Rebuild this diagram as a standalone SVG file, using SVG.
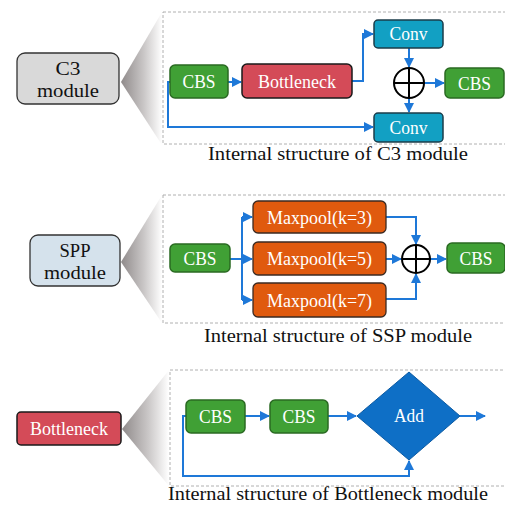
<svg xmlns="http://www.w3.org/2000/svg" width="505" height="506" viewBox="0 0 505 506">
<defs>
<linearGradient id="wedge" x1="0" y1="0" x2="1" y2="0">
<stop offset="0" stop-color="#8f8a8a"/>
<stop offset="0.55" stop-color="#c9c6c6"/>
<stop offset="1" stop-color="#ffffff"/>
</linearGradient>
<marker id="arr" viewBox="0 0 10 10" refX="9" refY="5" markerWidth="5" markerHeight="5" orient="auto" markerUnits="strokeWidth">
<path d="M0,0 L10,5 L0,10 z" fill="#1e78d8"/>
</marker>
<style>
.dash{fill:none;stroke:#b0b0b0;stroke-width:1;stroke-dasharray:3,2}
.cbs{fill:#40a035;stroke:#2a6a22;stroke-width:1.5}
.red{fill:#d44b58;stroke:#1a1a1a;stroke-width:1.5}
.cyan{fill:#12a0c3;stroke:#1b3c4a;stroke-width:1.5}
.org{fill:#e05a0e;stroke:#3b2a22;stroke-width:1.3}
.gray{fill:#d9d9d9;stroke:#333;stroke-width:1.3}
.lblue{fill:#d5e2ec;stroke:#333;stroke-width:1.3}
.t{font-family:"Liberation Serif","Times New Roman",serif;fill:#fff;font-size:18px;text-anchor:middle}
.tb{font-family:"Liberation Serif","Times New Roman",serif;fill:#111;font-size:19px;text-anchor:middle}
.cap{font-family:"Liberation Serif","Times New Roman",serif;fill:#111;font-size:19.5px}
.ln{fill:none;stroke:#1e78d8;stroke-width:2;marker-end:url(#arr)}
.pl{fill:none;stroke:#000;stroke-width:2}
</style>
</defs>
<rect width="505" height="506" fill="#fff"/>

<!-- wedges and dashed frames -->
<polygon points="121,82 162,12 162,145" fill="url(#wedge)"/>
<polygon points="121,262 162,195 162,323" fill="url(#wedge)"/>
<polygon points="122,429 169,370 169,486" fill="url(#wedge)"/>
<rect class="dash" x="163" y="12" width="346" height="132"/>
<rect class="dash" x="163" y="195" width="346" height="128"/>
<rect class="dash" x="170" y="370" width="339" height="116"/>

<!-- connectors -->
<g id="connectors">
<line class="ln" x1="228" y1="82" x2="241" y2="82"/>
<polyline class="ln" points="352,81 363,81 363,34 373,34"/>
<line class="ln" x1="409" y1="48" x2="409" y2="67"/>
<line class="ln" x1="424" y1="83" x2="444" y2="83"/>
<line class="ln" x1="409" y1="98" x2="409" y2="112"/>
<polyline class="ln" points="170,82 168,82 168,127 373,127"/>

<line class="ln" x1="230" y1="259" x2="242" y2="259" style="marker-end:none"/>
<polyline class="ln" points="242,217 242,300" style="marker-end:none"/>
<line class="ln" x1="242" y1="217" x2="252" y2="217"/>
<line class="ln" x1="242" y1="259" x2="252" y2="259"/>
<line class="ln" x1="242" y1="300" x2="252" y2="300"/>
<polyline class="ln" points="386,217 416,217 416,244"/>
<line class="ln" x1="386" y1="259" x2="401" y2="259"/>
<polyline class="ln" points="386,299 416,299 416,274"/>
<line class="ln" x1="430" y1="259" x2="446" y2="259"/>

<line class="ln" x1="245" y1="416" x2="269" y2="416"/>
<line class="ln" x1="328" y1="416" x2="356" y2="416"/>
<line class="ln" x1="460" y1="416" x2="485" y2="416"/>
<polyline class="ln" points="186,416 183,416 183,476 409,476 409,461"/>
</g>

<!-- C3 section -->
<g id="c3-module"><rect class="gray" x="17" y="53" width="102" height="51" rx="8"/>
<text class="tb" x="68" y="75" textLength="25" lengthAdjust="spacingAndGlyphs">C3</text><text class="tb" x="68" y="97" textLength="62" lengthAdjust="spacingAndGlyphs">module</text></g>
<g id="c3-cbs1"><rect class="cbs" x="170" y="65" width="58" height="33" rx="5"/><text class="t" x="199" y="88" textLength="33" lengthAdjust="spacingAndGlyphs">CBS</text></g>
<g id="c3-bottleneck"><rect class="red" x="242" y="64" width="110" height="34" rx="5"/><text class="t" x="297" y="88" textLength="78" lengthAdjust="spacingAndGlyphs">Bottleneck</text></g>
<g id="c3-conv1"><rect class="cyan" x="374" y="20" width="69" height="28" rx="4"/><text class="t" x="408.5" y="40" textLength="38" lengthAdjust="spacingAndGlyphs">Conv</text></g>
<g id="c3-plus"><circle class="pl" cx="409" cy="83" r="15"/><line class="pl" x1="394" y1="83" x2="424" y2="83"/><line class="pl" x1="409" y1="68" x2="409" y2="98"/></g>
<g id="c3-cbs2"><rect class="cbs" x="445" y="68" width="59" height="30" rx="5"/><text class="t" x="474.5" y="89.5" textLength="33" lengthAdjust="spacingAndGlyphs">CBS</text></g>
<g id="c3-conv2"><rect class="cyan" x="374" y="113" width="69" height="29" rx="4"/><text class="t" x="408.5" y="134" textLength="38" lengthAdjust="spacingAndGlyphs">Conv</text></g>
<text class="cap" x="208" y="160" textLength="260" lengthAdjust="spacingAndGlyphs">Internal structure of C3 module</text>

<!-- SPP section -->
<g id="spp-module"><rect class="lblue" x="30" y="235" width="90" height="51" rx="8"/>
<text class="tb" x="75" y="257" textLength="31" lengthAdjust="spacingAndGlyphs">SPP</text><text class="tb" x="75" y="279" textLength="62" lengthAdjust="spacingAndGlyphs">module</text></g>
<g id="spp-cbs1"><rect class="cbs" x="170" y="244" width="60" height="28" rx="5"/><text class="t" x="200" y="264.5" textLength="33" lengthAdjust="spacingAndGlyphs">CBS</text></g>
<g id="spp-mp3"><rect class="org" x="253" y="201" width="133" height="32" rx="5"/><text class="t" x="319.5" y="223.5" textLength="105" lengthAdjust="spacingAndGlyphs">Maxpool(k=3)</text></g>
<g id="spp-mp5"><rect class="org" x="253" y="242" width="133" height="33" rx="5"/><text class="t" x="319.5" y="265" textLength="105" lengthAdjust="spacingAndGlyphs">Maxpool(k=5)</text></g>
<g id="spp-mp7"><rect class="org" x="253" y="283" width="133" height="34" rx="5"/><text class="t" x="319.5" y="306.5" textLength="105" lengthAdjust="spacingAndGlyphs">Maxpool(k=7)</text></g>
<g id="spp-plus"><circle class="pl" cx="416" cy="259" r="14"/><line class="pl" x1="402" y1="259" x2="430" y2="259"/><line class="pl" x1="416" y1="245" x2="416" y2="273"/></g>
<g id="spp-cbs2"><rect class="cbs" x="447" y="243" width="58" height="30" rx="5"/><text class="t" x="476" y="264.5" textLength="33" lengthAdjust="spacingAndGlyphs">CBS</text></g>
<text class="cap" x="204" y="342" textLength="268" lengthAdjust="spacingAndGlyphs">Internal structure of SSP module</text>

<!-- Bottleneck section -->
<g id="bn-module"><rect class="red" x="17" y="412" width="104" height="33" rx="4"/><text class="t" x="69" y="435" textLength="78" lengthAdjust="spacingAndGlyphs">Bottleneck</text></g>
<g id="bn-cbs1"><rect class="cbs" x="186" y="400" width="59" height="33" rx="5"/><text class="t" x="215.5" y="423" textLength="33" lengthAdjust="spacingAndGlyphs">CBS</text></g>
<g id="bn-cbs2"><rect class="cbs" x="270" y="400" width="58" height="33" rx="5"/><text class="t" x="299" y="423" textLength="33" lengthAdjust="spacingAndGlyphs">CBS</text></g>
<g id="bn-add"><polygon points="409,372 460,416 409,460 357,416" fill="#0e6fc6" stroke="#0b5aa3" stroke-width="1"/><text class="t" x="409" y="422" textLength="30" lengthAdjust="spacingAndGlyphs">Add</text></g>
<text class="cap" x="168" y="500" textLength="320" lengthAdjust="spacingAndGlyphs">Internal structure of Bottleneck module</text>
</svg>
